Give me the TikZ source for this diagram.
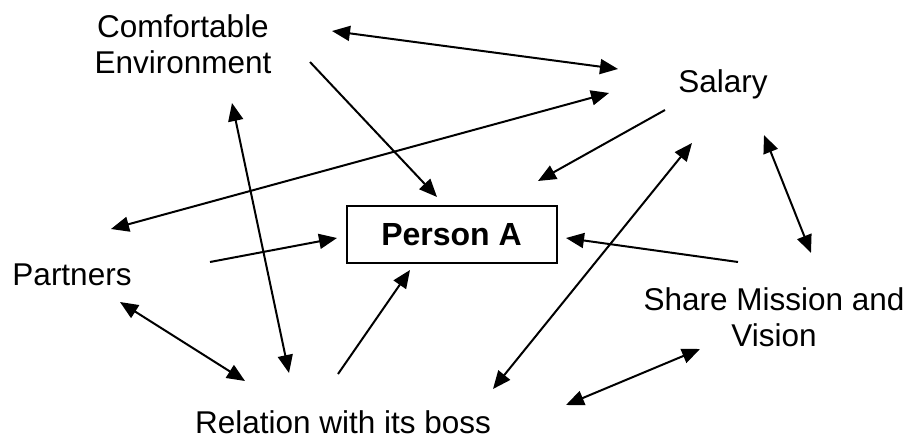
\documentclass[tikz,border=0pt]{standalone}
\usepackage{fontspec}
\setmainfont{Liberation Sans}
\usetikzlibrary{arrows.meta}
\begin{document}
\begin{tikzpicture}[x=1pt,y=-1pt,
  lbl/.style={inner sep=0pt,font=\fontsize{31.5}{36}\selectfont,align=center},
  conn/.style={line width=2pt,-{Triangle[length=18pt,width=15pt]}},
  dconn/.style={line width=2pt,{Triangle[length=18pt,width=15pt]}-{Triangle[length=18pt,width=15pt]}},
  pbox/.style={draw,line width=2pt,minimum width=210pt,minimum height=57pt,inner sep=0pt,font=\fontsize{32}{36}\selectfont\bfseries}]
\useasboundingbox (0,0) rectangle (908,439);
\fill[white] (0,0) rectangle (908,439);
% nodes
\node[lbl] (comf) at (183,44) {Comfortable\\Environment};
\node[lbl,anchor=base] (sal) at (723,92) {Salary};
\node[lbl,anchor=base] (part) at (72,285) {Partners};
\node[lbl] (share) at (774,317) {Share Mission and\\Vision};
\node[lbl,anchor=base] (rel) at (343,433) {Relation with its boss};
\node[pbox] (pa) at (451.5,234.5) {Person A};
% connector end points
\coordinate (c1a) at (332,31);  \coordinate (c1b) at (618,69);
\coordinate (c2a) at (310,62);  \coordinate (c2b) at (437,197);
\coordinate (c3a) at (111,229); \coordinate (c3b) at (609,93);
\coordinate (c4a) at (665,110); \coordinate (c4b) at (538,181);
\coordinate (c5a) at (738,262); \coordinate (c5b) at (566,238);
\coordinate (c6a) at (764,135); \coordinate (c6b) at (811,253);
\coordinate (c7a) at (692,143); \coordinate (c7b) at (493,389);
\coordinate (c8a) at (700,349); \coordinate (c8b) at (566,405);
\coordinate (c9a) at (210,262); \coordinate (c9b) at (337,238);
\coordinate (c10a) at (232,103); \coordinate (c10b) at (289,373);
\coordinate (c11a) at (120,302); \coordinate (c11b) at (245,381);
\coordinate (c12a) at (338,374); \coordinate (c12b) at (410,270);
% connectors
\draw[dconn] (c1a) -- (c1b);
\draw[conn]  (c2a) -- (c2b);
\draw[dconn] (c3a) -- (c3b);
\draw[conn]  (c4a) -- (c4b);
\draw[conn]  (c5a) -- (c5b);
\draw[dconn] (c6a) -- (c6b);
\draw[dconn] (c7a) -- (c7b);
\draw[dconn] (c8a) -- (c8b);
\draw[conn]  (c9a) -- (c9b);
\draw[dconn] (c10a) -- (c10b);
\draw[dconn] (c11a) -- (c11b);
\draw[conn]  (c12a) -- (c12b);
\end{tikzpicture}
\end{document}
